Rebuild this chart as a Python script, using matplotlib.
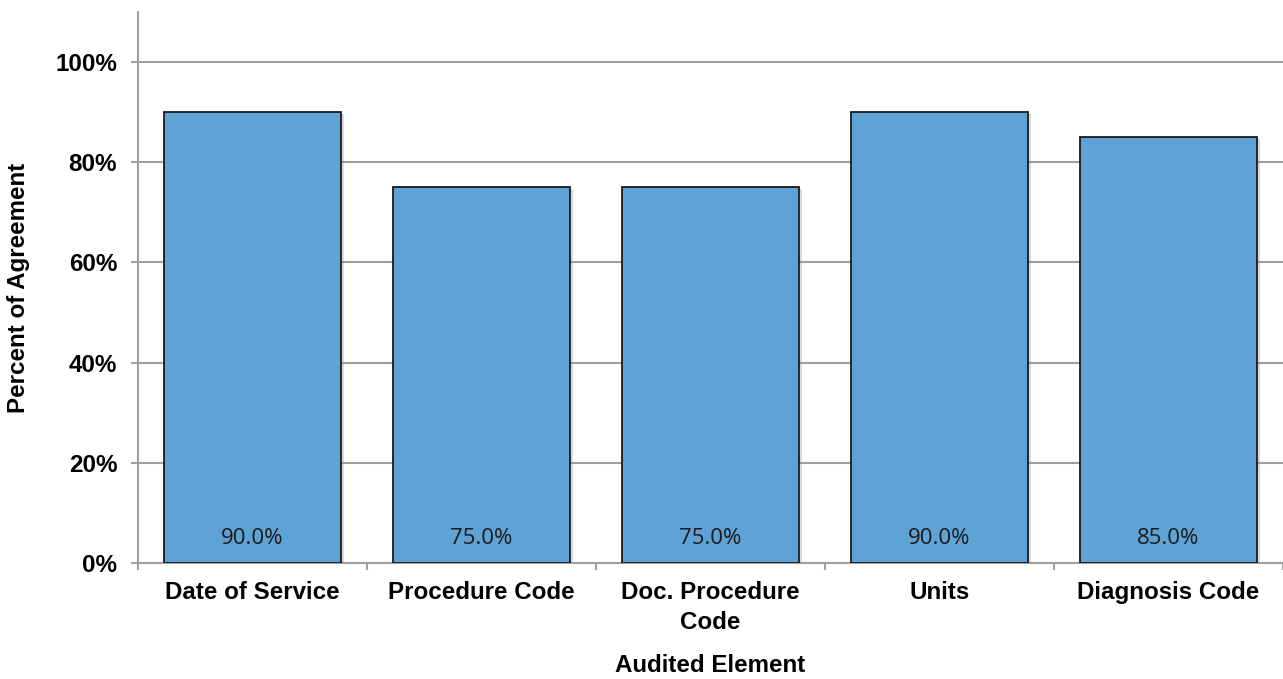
import matplotlib
matplotlib.use("Agg")
import matplotlib.pyplot as plt
import numpy as np
from matplotlib.ticker import FuncFormatter, FixedLocator
import matplotlib.patheffects as pe

categories = ["Date of Service", "Procedure Code", "Doc. Procedure\nCode", "Units", "Diagnosis Code"]
values = [0.90, 0.75, 0.75, 0.90, 0.85]
labels = ["90.0%", "75.0%", "75.0%", "90.0%", "85.0%"]

FS = 17.4
fig = plt.figure(figsize=(12.83, 6.79), dpi=100)
ax = fig.add_axes([138/1283, 1 - 563/679, 1 - 138/1283, (563 - 12)/679])

x = np.arange(len(categories))
ax.set_axisbelow(True)
ax.yaxis.grid(True, color="#a0a0a0", linewidth=1.5)
bars = ax.bar(x, values, width=0.77, color="#5fa2d6", edgecolor="#1a1a1a", linewidth=1.3, zorder=3,
              path_effects=[pe.SimpleLineShadow(offset=(2, -2), shadow_color="#888888", alpha=0.35), pe.Normal()])
for xi, lab in zip(x, labels):
    ax.text(xi, 0.048, lab, ha="center", va="center", fontsize=16, family="Open Sans", color="#1a1a1a", zorder=4)

ax.set_xlim(-0.5, len(categories) - 0.5)
ax.set_ylim(0, 1.1)
ax.set_yticks([0, 0.2, 0.4, 0.6, 0.8, 1.0])
ax.yaxis.set_major_formatter(FuncFormatter(lambda v, p: f"{v*100:.0f}%"))
ax.set_xticks(x)
ax.set_xticklabels(categories, fontsize=FS, fontweight="bold", family="Liberation Sans", linespacing=1.4)
ax.tick_params(axis="x", which="major", length=0, pad=13)
ax.xaxis.set_minor_locator(FixedLocator(np.arange(-0.5, len(categories), 1.0)))
ax.tick_params(axis="x", which="minor", length=5, color="#a0a0a0", width=1.5)
ax.tick_params(axis="y", length=5, color="#a0a0a0", width=1.5, pad=10)
for t in ax.get_yticklabels():
    t.set_fontsize(FS); t.set_fontweight("bold"); t.set_family("Liberation Sans")

for s in ["top", "right"]:
    ax.spines[s].set_visible(False)
for s in ["left", "bottom"]:
    ax.spines[s].set_color("#a0a0a0")
    ax.spines[s].set_linewidth(1.5)

fig.text(19/1283, 1 - 288/679, "Percent of Agreement", rotation=90, ha="center", va="center",
         fontsize=FS, fontweight="bold", family="Liberation Sans")
fig.text(710.5/1283, 1 - 665/679, "Audited Element", ha="center", va="center",
         fontsize=FS, fontweight="bold", family="Liberation Sans")

fig.savefig("out.png", dpi=100)
